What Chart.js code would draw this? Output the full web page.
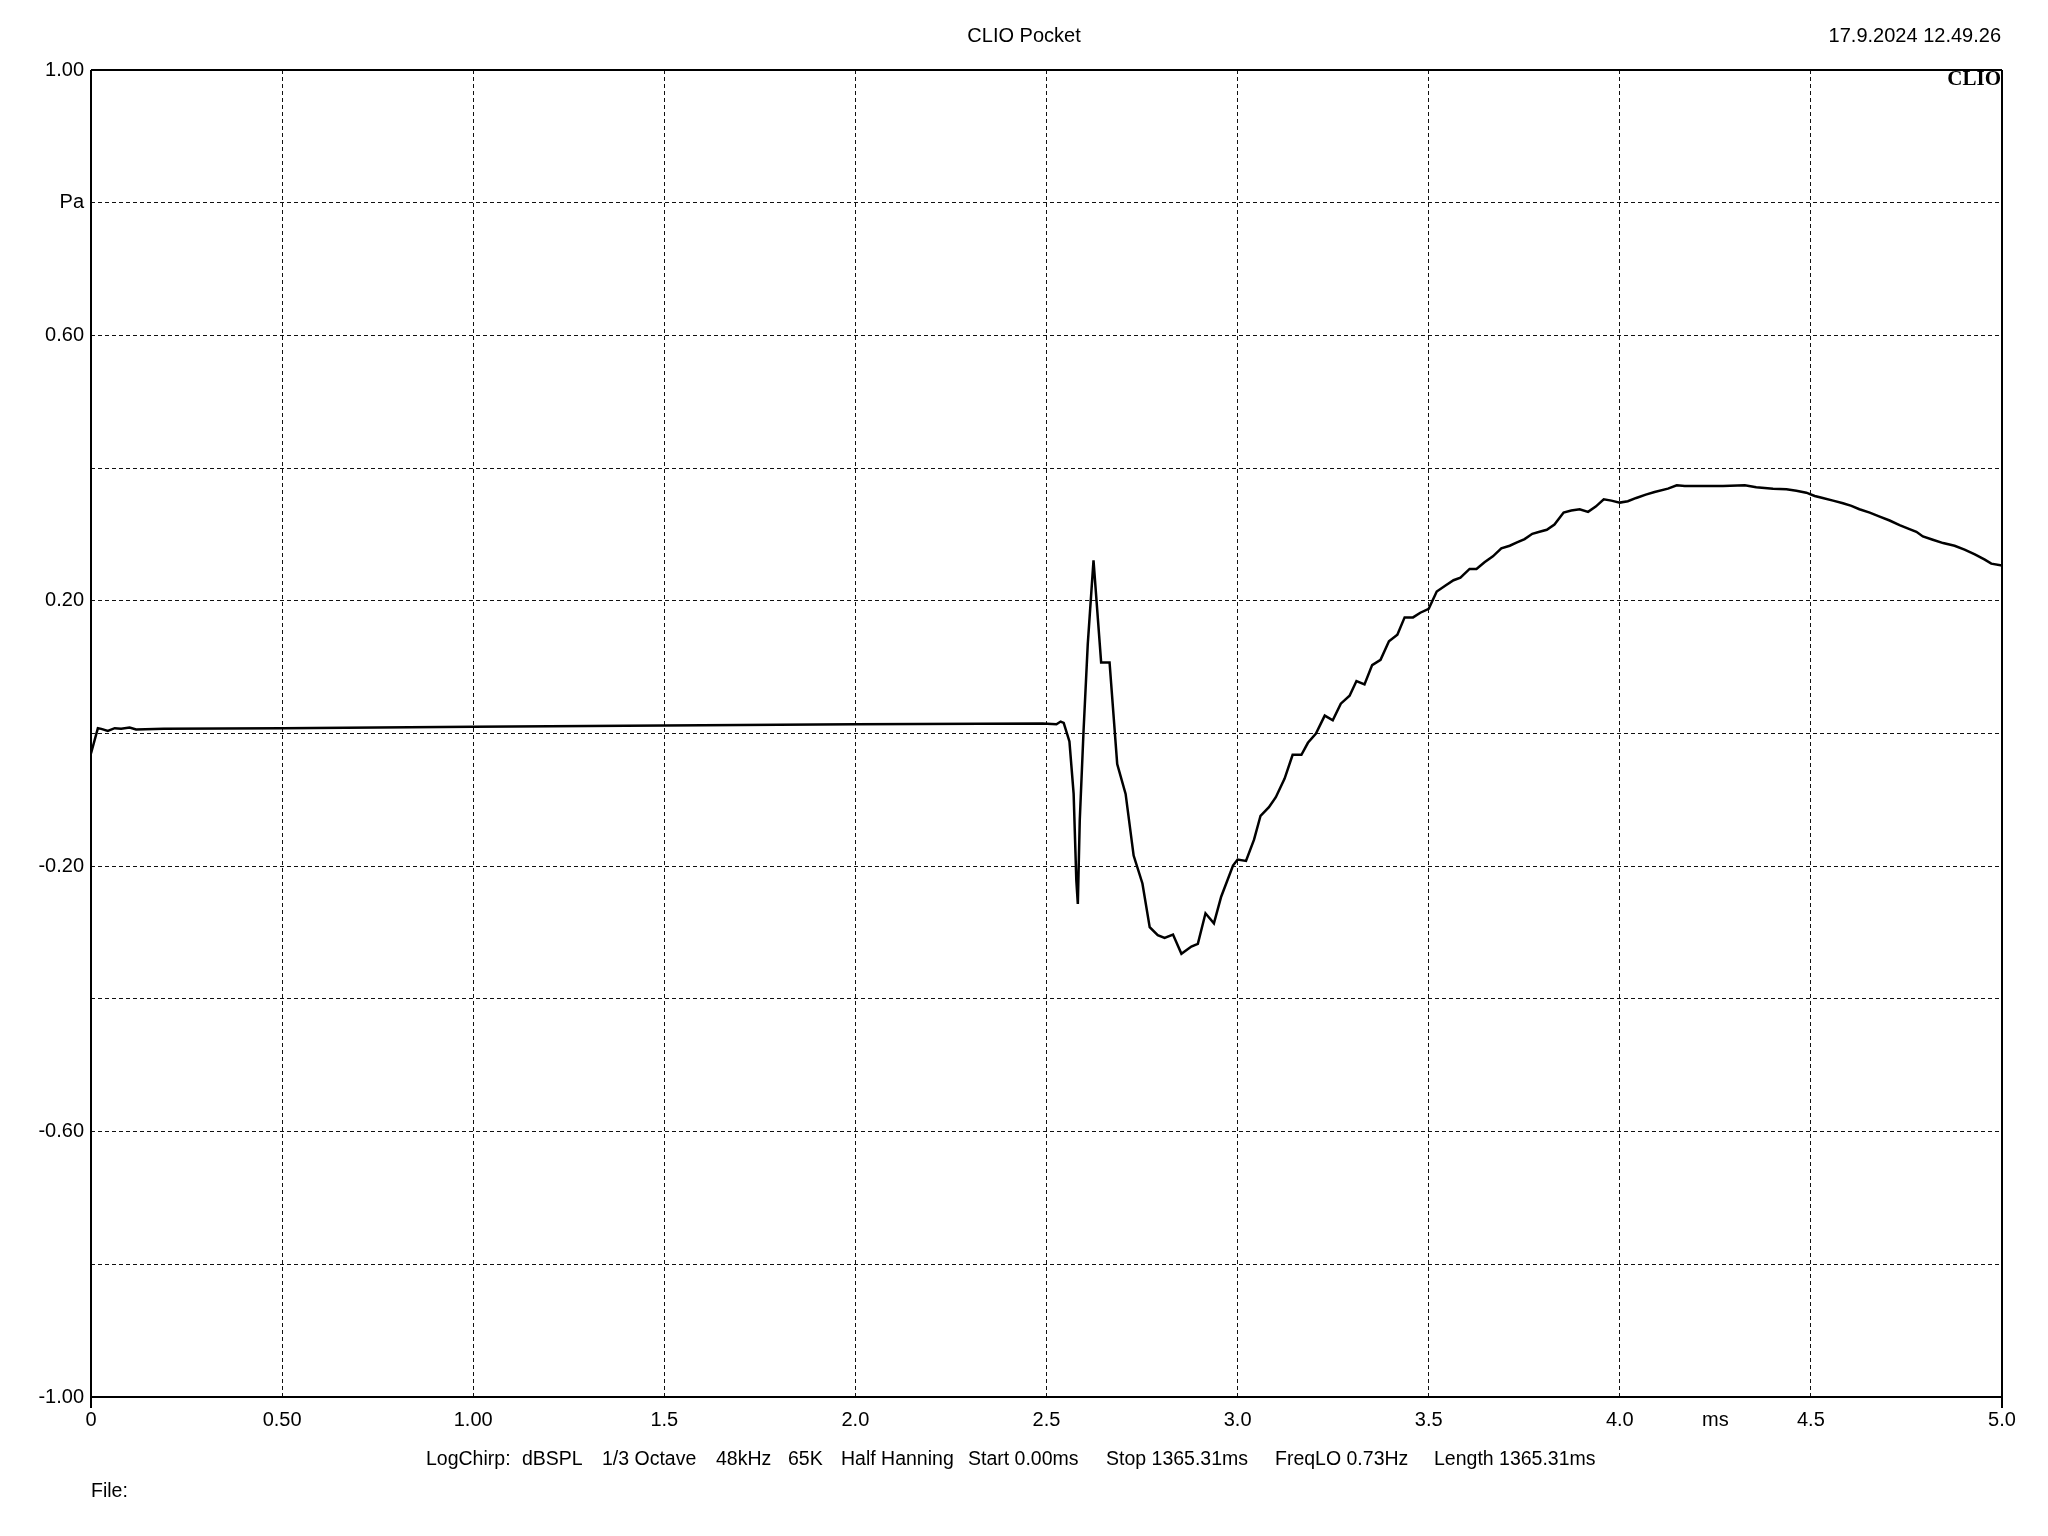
<!DOCTYPE html>
<html>
<head>
<meta charset="utf-8">
<style>
  html, body { margin: 0; padding: 0; background: #fff; }
  #wrap { width: 2048px; height: 1536px; }
</style>
<script src="https://cdn.jsdelivr.net/npm/chart.js"></script>
</head>
<body>
<div id="wrap"><canvas id="chart" width="2048" height="1536"></canvas></div>
<script>
    // time axis (ms) and sound pressure (Pa)
    const timeMs = [
        0.000, 0.018, 0.027, 0.044, 0.062, 0.079, 0.101, 0.118, 0.190, 0.500,
        1.000, 1.500, 2.000, 2.490, 2.526, 2.537, 2.545, 2.560, 2.571, 2.578,
        2.582, 2.587, 2.597, 2.608, 2.623, 2.643, 2.665, 2.685, 2.707, 2.728,
        2.751, 2.770, 2.791, 2.809, 2.831, 2.853, 2.879, 2.896, 2.916, 2.938,
        2.957, 2.988, 3.000, 3.022, 3.043, 3.060, 3.082, 3.100, 3.123, 3.144,
        3.167, 3.184, 3.205, 3.228, 3.249, 3.270, 3.293, 3.311, 3.332, 3.352,
        3.374, 3.396, 3.418, 3.437, 3.459, 3.478, 3.500, 3.521, 3.544, 3.565,
        3.583, 3.607, 3.625, 3.646, 3.668, 3.690, 3.712, 3.731, 3.751, 3.771,
        3.790, 3.809, 3.829, 3.853, 3.873, 3.895, 3.917, 3.937, 3.958, 3.978,
        4.000, 4.021, 4.043, 4.068, 4.091, 4.126, 4.149, 4.170, 4.270, 4.327,
        4.357, 4.401, 4.436, 4.462, 4.488, 4.510, 4.531, 4.558, 4.584, 4.606,
        4.627, 4.654, 4.680, 4.706, 4.732, 4.758, 4.776, 4.793, 4.819, 4.846,
        4.876, 4.902, 4.929, 4.955, 4.972, 5.000
    ];
    const pressurePa = [
        -0.030, 0.008, 0.007, 0.004, 0.008, 0.007, 0.009, 0.006, 0.007, 0.008,
        0.010, 0.012, 0.014, 0.015, 0.014, 0.018, 0.016, -0.012, -0.091, -0.221,
        -0.257, -0.131, 0.005, 0.135, 0.261, 0.107, 0.107, -0.046, -0.091, -0.184,
        -0.226, -0.292, -0.304, -0.308, -0.303, -0.332, -0.321, -0.317, -0.271, -0.286,
        -0.246, -0.199, -0.190, -0.192, -0.160, -0.124, -0.111, -0.096, -0.068, -0.032,
        -0.032, -0.014, 0.000, 0.027, 0.020, 0.045, 0.057, 0.079, 0.074, 0.103,
        0.111, 0.139, 0.149, 0.175, 0.175, 0.182, 0.188, 0.214, 0.223, 0.231,
        0.235, 0.248, 0.248, 0.258, 0.267, 0.279, 0.283, 0.288, 0.293, 0.301,
        0.304, 0.307, 0.315, 0.333, 0.336, 0.338, 0.334, 0.342, 0.353, 0.351,
        0.348, 0.350, 0.355, 0.360, 0.364, 0.369, 0.374, 0.373, 0.373, 0.374,
        0.371, 0.369, 0.368, 0.366, 0.363, 0.358, 0.355, 0.351, 0.347, 0.343,
        0.338, 0.333, 0.327, 0.321, 0.314, 0.308, 0.304, 0.297, 0.292, 0.287,
        0.283, 0.277, 0.270, 0.262, 0.256, 0.253
    ];

    // tick labels, from axis min upward (step 0.5 ms / 0.2 Pa)
    const xTickLabels = ['0', '0.50', '1.00', '1.5', '2.0', '2.5', '3.0', '3.5', '4.0', '4.5', '5.0'];
    const yTickLabels = ['-1.00', '', '-0.60', '', '-0.20', '', '0.20', '', '0.60', 'Pa', '1.00'];

    const footerItems = [
        ['LogChirp:', 426], ['dBSPL', 522], ['1/3 Octave', 602], ['48kHz', 716], ['65K', 788],
        ['Half Hanning', 841], ['Start 0.00ms', 968], ['Stop 1365.31ms', 1106],
        ['FreqLO 0.73Hz', 1275], ['Length 1365.31ms', 1434]
    ];

    const FAMILY = '"Liberation Sans", Arial, sans-serif';
    const FONT = '20px ' + FAMILY;

    // frame + all the loose CLIO texts
    const clioDecor = {
        id: 'clioDecor',
        afterDraw(chart) {
            const ctx = chart.ctx;
            const a = chart.chartArea;
            ctx.save();
            ctx.strokeStyle = '#000';
            ctx.lineWidth = 2;
            ctx.setLineDash([]);
            ctx.beginPath();
            ctx.moveTo(a.left, a.top);
            ctx.lineTo(a.right, a.top);
            ctx.moveTo(a.left, a.bottom);
            ctx.lineTo(a.right, a.bottom);
            ctx.moveTo(a.left, a.top);
            ctx.lineTo(a.left, a.bottom + 11);
            ctx.moveTo(a.right, a.top);
            ctx.lineTo(a.right, a.bottom + 11);
            ctx.stroke();

            ctx.fillStyle = '#000';
            ctx.font = FONT;
            ctx.textBaseline = 'alphabetic';
            ctx.textAlign = 'center';
            ctx.fillText('CLIO Pocket', 1024, 42);
            ctx.textAlign = 'right';
            ctx.fillText('17.9.2024 12.49.26', a.right - 1, 42);

            ctx.font = 'bold 21px "Liberation Serif", "DejaVu Serif", serif';
            ctx.fillText('CLIO', a.right - 1, 85);

            ctx.font = FONT;
            ctx.textAlign = 'center';
            ctx.textBaseline = 'middle';
            ctx.fillText('ms', chart.scales.x.getPixelForValue(4.25), a.bottom + 23);

            ctx.font = '19.5px ' + FAMILY;
            ctx.textAlign = 'left';
            ctx.textBaseline = 'alphabetic';
            footerItems.forEach(([txt, x]) => ctx.fillText(txt, x, 1465));
            ctx.fillText('File:', a.left, 1497);
            ctx.restore();
        }
    };

    const points = timeMs.map((t, i) => ({ x: t, y: pressurePa[i] }));

    new Chart(document.getElementById('chart'), {
        type: 'line',
        data: {
            datasets: [{
                data: points,
                borderColor: '#000',
                borderWidth: 2.5,
                pointRadius: 0,
                tension: 0,
                fill: false
            }]
        },
        options: {
            responsive: false,
            animation: false,
            devicePixelRatio: 1,
            layout: { padding: { top: 70, right: 46, bottom: 99, left: 0 } },
            plugins: { legend: { display: false }, tooltip: { enabled: false } },
            scales: {
                x: {
                    type: 'linear',
                    min: 0,
                    max: 5,
                    afterFit(s) { s.height = 40; },
                    grid: { color: '#111', lineWidth: 1, drawTicks: false },
                    border: { display: false, dash: [4, 3] },
                    ticks: {
                        stepSize: 0.5,
                        padding: 11,
                        color: '#000',
                        font: { family: FAMILY, size: 20 },
                        maxRotation: 0,
                        autoSkip: false,
                        callback: (v, i) => xTickLabels[i]
                    }
                },
                y: {
                    min: -1,
                    max: 1,
                    afterFit(s) { s.width = 91; },
                    grid: { color: '#111', lineWidth: 1, drawTicks: false },
                    border: { display: false, dash: [4, 3] },
                    ticks: {
                        stepSize: 0.2,
                        padding: 7,
                        color: '#000',
                        font: { family: FAMILY, size: 20 },
                        autoSkip: false,
                        callback: (v, i) => yTickLabels[i]
                    }
                }
            }
        },
        plugins: [clioDecor]
    });
</script>
</body>
</html>
